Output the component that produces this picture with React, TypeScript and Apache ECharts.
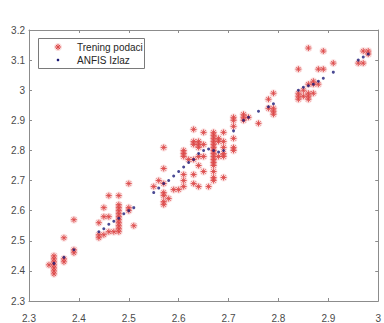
import React, { useEffect, useRef } from "react";
import * as echarts from "echarts";

// Training data, grouped by x value (columns of points)
const trainColumnsX = [
  2.34, 2.35, 2.37, 2.39, 2.44, 2.45, 2.46, 2.47, 2.48, 2.5, 2.51, 2.55, 2.56, 2.57, 2.58, 2.59,
  2.6, 2.61, 2.62, 2.63, 2.64, 2.65, 2.66, 2.67, 2.68, 2.69, 2.71, 2.73, 2.74, 2.76, 2.78, 2.79,
  2.84, 2.85, 2.86, 2.87, 2.88, 2.89, 2.91, 2.96, 2.97, 2.98,
];
const trainColumnsY = [
  [2.42],
  [2.39, 2.4, 2.41, 2.42, 2.43, 2.44, 2.45],
  [2.51, 2.44, 2.43],
  [2.57, 2.47, 2.46],
  [2.56, 2.52, 2.51],
  [2.61, 2.58, 2.52],
  [2.65, 2.58, 2.53],
  [2.53],
  [2.65, 2.62, 2.61, 2.6, 2.59, 2.58, 2.57, 2.56, 2.55, 2.54, 2.53],
  [2.69, 2.61, 2.6],
  [2.55],
  [2.68],
  [2.7],
  [2.81, 2.74, 2.69, 2.66, 2.65, 2.63, 2.62],
  [2.64],
  [2.67],
  [2.67],
  [2.8, 2.79, 2.78, 2.72, 2.7, 2.68],
  [2.77],
  [2.87, 2.83, 2.82, 2.77, 2.72, 2.69],
  [2.83, 2.82, 2.81, 2.78, 2.75, 2.68],
  [2.86, 2.82, 2.78, 2.73],
  [2.68],
  [2.86, 2.85, 2.84, 2.83, 2.82, 2.81, 2.8, 2.79, 2.78, 2.77, 2.76, 2.75, 2.73, 2.71, 2.7],
  [2.84, 2.83, 2.78],
  [2.86, 2.83, 2.81, 2.79, 2.78, 2.71],
  [2.91, 2.9, 2.88, 2.84, 2.81, 2.8],
  [2.92, 2.91, 2.9],
  [2.91],
  [2.89],
  [2.97, 2.94],
  [2.99, 2.94, 2.93, 2.92],
  [3.07, 2.99, 2.98, 2.97],
  [3.0, 2.98],
  [3.14, 3.02, 2.99, 2.98, 2.97],
  [3.03, 3.02, 2.99],
  [3.07, 3.02],
  [3.13, 3.07],
  [3.09],
  [3.09],
  [3.13, 3.09],
  [3.13, 3.12],
];

// ANFIS output
const anfisX = [
  2.35, 2.37, 2.39, 2.44, 2.45, 2.46, 2.47, 2.48, 2.49, 2.5, 2.51, 2.55, 2.56, 2.57, 2.58, 2.59,
  2.6, 2.61, 2.62, 2.63, 2.64, 2.65, 2.66, 2.67, 2.68, 2.69, 2.71, 2.73, 2.74, 2.76, 2.78, 2.79,
  2.84, 2.85, 2.86, 2.87, 2.88, 2.89, 2.91, 2.96, 2.97, 2.98,
];
const anfisY = [
  2.425, 2.445, 2.47, 2.53, 2.54, 2.555, 2.565, 2.575, 2.59, 2.6, 2.61, 2.66, 2.675, 2.69, 2.7,
  2.715, 2.73, 2.745, 2.76, 2.77, 2.79, 2.8, 2.805, 2.8, 2.795, 2.8, 2.865, 2.9, 2.91, 2.93, 2.945,
  2.955, 3.0, 3.01, 3.015, 3.02, 3.03, 3.04, 3.06, 3.1, 3.11, 3.12,
];

const seriesNames = ["Trening podaci", "ANFIS Izlaz"];
const xTickLabels = ["2.3", "2.4", "2.5", "2.6", "2.7", "2.8", "2.9", "3"];
const yTickLabels = ["2.3", "2.4", "2.5", "2.6", "2.7", "2.8", "2.9", "3", "3.1", "3.2"];

const FONT = "'Liberation Sans', Arial, sans-serif";
const AXIS_GRAY = "#8c8c8c";
const LABEL_COLOR = "#4a4a4a";
const RED = "#dc4848";
const HALO = "rgba(240,150,150,0.33)";
const NAVY = "#1c1c78";
const STAR = "path://M0,-10L0,10M-10,0L10,0M-7,-7L7,7M-7,7L7,-7";

export default function App() {
  const ref = useRef<HTMLDivElement>(null);

  useEffect(() => {
    if (!ref.current) return;
    const chart = echarts.init(ref.current, undefined, { renderer: "svg" });

    const trainData: number[][] = [];
    trainColumnsX.forEach((x, i) => {
      trainColumnsY[i].forEach((y) => trainData.push([x, y]));
    });
    const anfisData = anfisX.map((x, i) => [x, anfisY[i]]);

    const fmtX = (v: number) => xTickLabels[Math.round((v - 2.3) / 0.1)] ?? "";
    const fmtY = (v: number) => yTickLabels[Math.round((v - 2.3) / 0.1)] ?? "";

    const baseX = {
      type: "value" as const,
      min: 2.3,
      max: 3.0,
      interval: 0.1,
      splitLine: { show: false },
      axisLine: { show: true, onZero: false, lineStyle: { color: AXIS_GRAY, width: 1 } },
      axisTick: { show: true, inside: true, length: 3, lineStyle: { color: AXIS_GRAY } },
    };
    const baseY = {
      type: "value" as const,
      min: 2.3,
      max: 3.2,
      interval: 0.1,
      splitLine: { show: false },
      axisLine: { show: true, onZero: false, lineStyle: { color: AXIS_GRAY, width: 1 } },
      axisTick: { show: true, inside: true, length: 3, lineStyle: { color: AXIS_GRAY } },
    };

    // legend drawn as graphic (small MATLAB-like markers)
    const lx = 58;
    const ly1 = 47;
    const ly2 = 60;
    const starArm = (x1: number, y1: number, x2: number, y2: number) => ({
      type: "line",
      shape: { x1: lx + x1, y1: ly1 + y1, x2: lx + x2, y2: ly1 + y2 },
      style: { stroke: RED, lineWidth: 1 },
    });

    chart.setOption({
      animation: false,
      backgroundColor: "#ffffff",
      textStyle: { fontFamily: FONT },
      grid: { left: 29, right: 2, top: 30, bottom: 15, containLabel: false },
      xAxis: [
        {
          ...baseX,
          position: "bottom",
          axisLabel: { show: true, margin: 12, fontSize: 10, color: LABEL_COLOR, fontFamily: FONT, formatter: fmtX },
        },
        { ...baseX, position: "top", axisLabel: { show: false } },
      ],
      yAxis: [
        {
          ...baseY,
          position: "left",
          axisLabel: { show: true, margin: 4, fontSize: 10, color: LABEL_COLOR, fontFamily: FONT, formatter: fmtY },
        },
        { ...baseY, position: "right", axisLabel: { show: false } },
      ],
      graphic: [
        {
          type: "group",
          z: 100,
          children: [
            {
              type: "rect",
              shape: { x: 38.5, y: 38.5, width: 106, height: 30 },
              style: { fill: "#ffffff", stroke: "#7a7a7a", lineWidth: 1 },
            },
            { type: "circle", shape: { cx: lx, cy: ly1, r: 4 }, style: { fill: HALO } },
            starArm(0, -3, 0, 3),
            starArm(-3, 0, 3, 0),
            starArm(-2, -2, 2, 2),
            starArm(-2, 2, 2, -2),
            { type: "circle", shape: { cx: lx, cy: ly2, r: 1.3 }, style: { fill: NAVY } },
            {
              type: "text",
              x: 77,
              y: ly1,
              style: { text: seriesNames[0], fontSize: 10, fill: "#262626", fontFamily: FONT, verticalAlign: "middle" },
            },
            {
              type: "text",
              x: 77,
              y: ly2,
              style: { text: seriesNames[1], fontSize: 10, fill: "#262626", fontFamily: FONT, verticalAlign: "middle" },
            },
          ],
        },
      ],
      series: [
        {
          name: "halo",
          type: "scatter",
          silent: true,
          data: trainData,
          symbol: "circle",
          symbolSize: 8,
          itemStyle: { color: HALO },
          z: 1,
        },
        {
          name: seriesNames[0],
          type: "scatter",
          data: trainData,
          symbol: STAR,
          symbolSize: 6,
          itemStyle: { color: "none", borderColor: RED, borderWidth: 1, opacity: 0.9 },
          z: 2,
        },
        {
          name: seriesNames[1],
          type: "scatter",
          data: anfisData,
          symbol: "circle",
          symbolSize: 3,
          itemStyle: { color: NAVY },
          z: 3,
        },
      ],
    });

    return () => chart.dispose();
  }, []);

  return <div ref={ref} style={{ width: 384, height: 323, position: "absolute", left: 0, top: 0 }} />;
}
